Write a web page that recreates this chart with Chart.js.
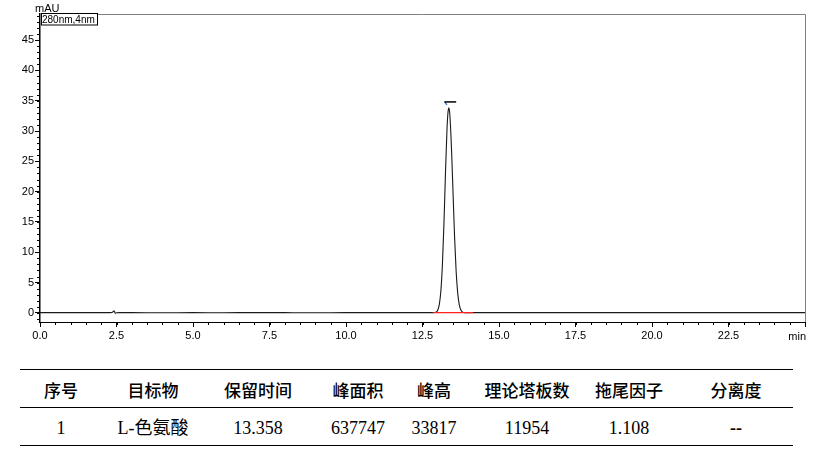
<!DOCTYPE html>
<html><head><meta charset="utf-8">
<script src="https://cdn.jsdelivr.net/npm/chart.js@4/dist/chart.umd.min.js"></script>
<style>
html,body{margin:0;padding:0;background:#fff;width:828px;height:453px;overflow:hidden;position:relative}
#c{position:absolute;left:0;top:0}
.hl{position:absolute;left:20px;width:773px;height:0;border-top:1.5px solid #000}
.cell{position:absolute;transform:translateX(-50%);white-space:nowrap;color:#000;line-height:20px}
.h{font-family:"Noto Sans CJK SC","Liberation Sans",sans-serif;top:380px;font-size:17px;font-weight:500}
.d{font-family:"Liberation Serif","Noto Sans CJK SC",serif;top:418px;font-size:18px}
</style></head><body>
<canvas id="c" width="828" height="352"></canvas>
<div class="hl" style="top:369px"></div>
<div class="hl" style="top:407px"></div>
<div class="hl" style="top:445px"></div>
<div id="tbl"></div>
<script>
// ---- data ----
const retentionTimes = [0,0.5,1.0,1.5,2.0,2.3,2.38,2.42,2.46,2.5,2.6,3.0,4.0,5.0,6.0,7.0,8.0,9.0,10.0,11.0,12.0,12.5,12.8,12.9,12.95,13.0,13.05,13.1,13.15,13.2,13.25,13.3,13.33,13.358,13.38,13.4,13.45,13.5,13.55,13.6,13.65,13.7,13.75,13.8,13.9,14.0,14.5,15.0,16.0,17.0,18.0,19.0,20.0,21.0,22.0,23.0,24.0,25.0];
const absorbance =     [0.05,0.05,0.05,0.04,0.04,0.05,0.15,0.35,-0.05,0.03,0.04,0.04,0.03,0.04,0.03,0.05,0.04,0.03,0.04,0.04,0.04,0.04,0.04,0.07,0.15,0.48,1.4,3.6,7.9,14.6,22.9,30.2,32.9,33.82,33.4,32.2,26.8,19.5,12.3,6.8,3.3,1.4,0.52,0.18,0.05,0.04,0.04,0.05,0.04,0.04,0.05,0.04,0.04,0.05,0.04,0.05,0.05,0.05];
const baselineSegment = [{x:12.84,y:0.04},{x:14.15,y:0.04}];
const peakMarkBar = [{x:13.22,y:34.8},{x:13.6,y:34.8}];
const peakMarkSlash = [{x:13.22,y:34.8},{x:13.3,y:34.3}];
const xTickValues = [0,2.5,5,7.5,10,12.5,15,17.5,20,22.5,25];
const yTickValues = [0,5,10,15,20,25,30,35,40,45];
const xMinorStep = 0.5, yMinorStep = 1;
const xMin = 0, xMax = 25, yMin = -1.5, yMax = 49.3;
const yUnit = "mAU", xUnit = "min", channelLabel = "280nm,4nm";
const tableHeaders = ["序号","目标物","保留时间","峰面积","峰高","理论塔板数","拖尾因子","分离度"];
const tableRow = ["1","L-色氨酸","13.358","637747","33817","11954","1.108","--"];
const colCenters = [61,153,258,358,434,527,629,736];

// ---- table ----
const tbl = document.getElementById('tbl');
tableHeaders.forEach((t,i)=>{const d=document.createElement('div');d.className='cell h';d.style.left=colCenters[i]+'px';d.textContent=t;tbl.appendChild(d);});
tableRow.forEach((t,i)=>{const d=document.createElement('div');d.className='cell d';d.style.left=colCenters[i]+'px';d.textContent=t;if(t==='--'){d.style.fontWeight='bold';}tbl.appendChild(d);});

// ---- chart ----
const points = retentionTimes.map((t,i)=>({x:t,y:absorbance[i]}));
const FONT = '"Liberation Sans", Arial, sans-serif';
const decor = {
  id:'decor',
  afterDraw(chart){
    const {ctx,chartArea:a,scales:{x,y}} = chart;
    ctx.save();
    // frame top/right
    ctx.strokeStyle='#808080';ctx.lineWidth=1;
    ctx.beginPath();ctx.moveTo(a.left,a.top+0.5);ctx.lineTo(a.right+0.5,a.top+0.5);ctx.lineTo(a.right+0.5,a.bottom);ctx.stroke();
    // minor ticks
    ctx.strokeStyle='#000';ctx.lineWidth=1;
    ctx.beginPath();
    for(let v=xMin; v<=xMax+1e-9; v+=xMinorStep){const px=Math.round(x.getPixelForValue(v))+0.5;ctx.moveTo(px,a.bottom);ctx.lineTo(px,a.bottom+3);}
    for(let v=-1; v<=yMax; v+=yMinorStep){const py=Math.round(y.getPixelForValue(v))+0.5;ctx.moveTo(a.left-3,py);ctx.lineTo(a.left,py);}
    ctx.stroke();
    // x unit label, right-aligned at last tick
    ctx.fillStyle='#000';ctx.font='11px '+FONT;ctx.textBaseline='top';ctx.textAlign='right';
    ctx.fillText(xUnit, x.getPixelForValue(xMax)+1, a.bottom+9);
    // unit label
    ctx.textBaseline='alphabetic';ctx.textAlign='left';
    ctx.fillText(yUnit,35,12);
    // channel box
    ctx.fillStyle='#fff';ctx.fillRect(41,13,57,12);
    ctx.strokeStyle='#000';ctx.strokeRect(41.5,13.5,56,11.5);
    ctx.fillStyle='#000';ctx.font='10px '+FONT;ctx.fillText(channelLabel,42,23);
    ctx.restore();
  }
};
new Chart(document.getElementById('c'),{
  type:'line',
  data:{datasets:[
    {data:points,borderColor:'#1a1a1a',borderWidth:1.1,pointRadius:0,cubicInterpolationMode:'monotone',order:1},
    {data:baselineSegment,borderColor:'#ff2020',borderWidth:1.2,pointRadius:0,order:0},
    {data:peakMarkBar,borderColor:'#000',borderWidth:1.5,pointRadius:0},
    {data:peakMarkSlash,borderColor:'#3060c0',borderWidth:1.2,pointRadius:0}
  ]},
  options:{
    responsive:false,animation:false,
    layout:{padding:{left:0,right:23,top:14,bottom:0}},
    plugins:{legend:{display:false},tooltip:{enabled:false}},
    scales:{
      x:{type:'linear',min:xMin,max:xMax,
        afterBuildTicks(s){s.ticks=xTickValues.map(v=>({value:v}));},
        afterFit(s){s.height=30;},
        grid:{display:true,drawOnChartArea:false,drawTicks:true,tickLength:5,color:'#000'},
        border:{display:true,color:'#000',width:1},
        ticks:{padding:2,maxRotation:0,color:'#000',font:{family:FONT,size:11},
          callback:(v)=> v===xMax ? '' : Number(v).toFixed(1)}
      },
      y:{type:'linear',min:yMin,max:yMax,
        afterBuildTicks(s){s.ticks=yTickValues.map(v=>({value:v}));},
        afterFit(s){s.width=40;},
        grid:{display:true,drawOnChartArea:false,drawTicks:true,tickLength:5,color:'#000'},
        border:{display:true,color:'#000',width:1.5},
        ticks:{padding:1,color:'#000',font:{family:FONT,size:11}}
      }
    }
  },
  plugins:[decor]
});
</script>
</body></html>
